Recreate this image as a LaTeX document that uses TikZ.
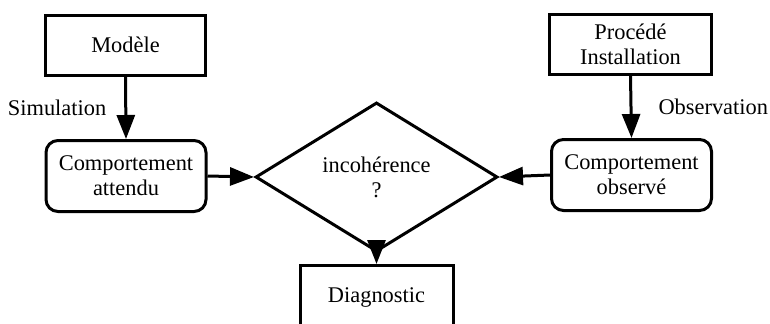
\documentclass[tikz,border=0pt]{standalone}
\usepackage{fontspec}
\setmainfont{Liberation Serif}
\usetikzlibrary{shapes.geometric,arrows.meta}
\begin{document}
\begin{tikzpicture}[x=0.5pt,y=-0.5pt,
  every node/.style={font=\fontsize{11.2}{12.5}\selectfont, align=center, inner sep=0pt},
  sqbox/.style={draw, line width=1.5pt, minimum width=80pt, minimum height=30pt},
  rbox/.style={draw, line width=1.5pt, rounded corners=6pt, minimum width=80pt, minimum height=35.5pt},
  decision/.style={draw, diamond, line width=1.5pt, minimum width=121pt, minimum height=53pt},
  conn/.style={line width=1.5pt, -{Triangle[length=12pt,width=9pt]}}]
\useasboundingbox (0,0) rectangle (770,323);
\clip (0,0) rectangle (770,323);
\node[sqbox] (modele) at (125.5,45) {Modèle};
\node[rbox] (attendu) at (126,176) {Comportement\\attendu};
\node[decision] (incoh) at (376.5,177) {incohérence\\?};
\node[rbox] (observe) at (631.5,175) {Comportement\\observé};
\node[sqbox, minimum width=81pt, minimum height=30pt] (procede) at (630.5,44.5) {Procédé\\Installation};
\node[sqbox, minimum width=76.5pt, minimum height=32.25pt] (diag) at (376.5,297.75) {Diagnostic};
\draw[conn] (modele.south) -- node[midway, left=9pt] (simul) {Simulation} (attendu.north);
\draw[conn] (procede.south) -- node[midway, right=13pt] (obs) {Observation} (observe.north);
\draw[conn] (attendu.east) -- (incoh.west);
\draw[conn] (observe.west) -- (incoh.east);
\draw[conn] (incoh.south) -- (diag.north);
\end{tikzpicture}
\end{document}
